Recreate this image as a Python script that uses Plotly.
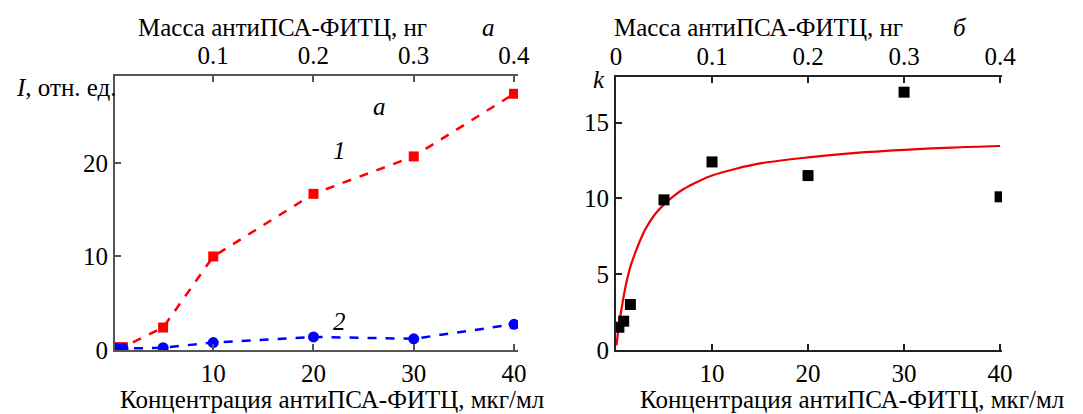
import plotly.graph_objects as go

# ---- data ----
conc_a = [0.3, 1, 5, 10, 20, 30, 40]
I_red = [0.3, 0.3, 2.4, 10.0, 16.7, 20.7, 27.4]
conc_b = [0.3, 1, 5, 10, 20, 30, 40]
I_blue = [0.2, 0.15, 0.25, 0.8, 1.4, 1.2, 2.75]

conc_k = [0.3, 0.8, 1.5, 5, 10, 20, 30, 40]
k_vals = [1.5, 1.9, 3.0, 9.9, 12.4, 11.5, 17.0, 10.1]

fit_c = [0.05, 0.3, 0.6, 1, 1.5, 2, 2.5, 3, 4, 5, 6, 7, 8.5, 10, 12.5, 15, 20, 25, 30, 35, 40]
fit_k = [0.3, 1.6, 2.8, 4.2, 5.5, 6.4, 7.2, 7.9, 8.9, 9.6, 10.15, 10.6, 11.1, 11.5, 11.95, 12.3, 12.7, 13.0, 13.2, 13.35, 13.45]

bottom_ticks = [10, 20, 30, 40]
top_ticks = [0, 0.1, 0.2, 0.3, 0.4]
top_labels = ["0", "0.1", "0.2", "0.3", "0.4"]
yticks_a = [0, 10, 20]
yticks_b = [0, 5, 10, 15]

W, H = 1083, 414
FONT = "Liberation Serif"
FS = 25
FS_T = 25

def px_x(p):
    return p / W

def px_y(p):
    return 1 - p / H

fig = go.Figure()

# left panel
fig.add_trace(go.Scatter(x=conc_a, y=I_red, mode="lines+markers",
                         line=dict(color="#ff0000", width=2.5, dash="dash"),
                         marker=dict(symbol="square", size=10, color="#ff0000"),
                         xaxis="x", yaxis="y", showlegend=False))
fig.add_trace(go.Scatter(x=conc_b, y=I_blue, mode="lines+markers",
                         line=dict(color="#0000ff", width=2.5, dash="dash"),
                         marker=dict(symbol="circle", size=11, color="#0000ff"),
                         xaxis="x", yaxis="y", showlegend=False))
fig.add_trace(go.Scatter(x=[top_ticks[0]], y=[0], mode="markers", marker=dict(opacity=0),
                         hoverinfo="skip", xaxis="x3", yaxis="y", showlegend=False))

# right panel
fig.add_trace(go.Scatter(x=fit_c, y=fit_k, mode="lines", line=dict(color="#ee0000", width=2.2, shape="spline"),
                         xaxis="x2", yaxis="y2", showlegend=False))
fig.add_trace(go.Scatter(x=conc_k, y=k_vals, mode="markers",
                         marker=dict(symbol="square", size=11, color="#000000"),
                         xaxis="x2", yaxis="y2", showlegend=False))
fig.add_trace(go.Scatter(x=[top_ticks[0]], y=[0], mode="markers", marker=dict(opacity=0),
                         hoverinfo="skip", xaxis="x4", yaxis="y2", showlegend=False))

tickfont = dict(family=FONT, size=FS, color="#000000")

def xax(domain, rng, vals, texts, side, color, anchor, overlaying=None):
    d = dict(domain=domain, range=rng, tickvals=vals, ticktext=texts, side=side,
             showline=True, linecolor=color, linewidth=2, ticks="inside", ticklen=6,
             tickcolor=color, tickwidth=2, showgrid=False, zeroline=False,
             tickfont=tickfont, anchor=anchor, automargin=False)
    if overlaying:
        d["overlaying"] = overlaying
    return d

def yax(domain, rng, vals, color, anchor):
    return dict(domain=domain, range=rng, tickvals=vals, ticktext=[str(v) for v in vals],
                showline=True, linecolor=color, linewidth=2, ticks="inside", ticklen=6,
                tickcolor=color, tickwidth=2, showgrid=False, zeroline=False,
                tickfont=tickfont, anchor=anchor, automargin=False)

la = (px_x(115), px_x(518))
ra = (px_x(616), px_x(1002))
l_rng = [0.2, 40.4]
r_rng = [0, 40.2]

fig.update_layout(
    width=W, height=H,
    margin=dict(l=0, r=0, t=0, b=0, autoexpand=False),
    font=dict(family=FONT, size=FS, color="#000000"),
    paper_bgcolor="white", plot_bgcolor="white",
    xaxis=xax(la, l_rng, bottom_ticks, [str(v) for v in bottom_ticks], "bottom", "#555555", "y"),
    xaxis3=xax(la, [l_rng[0] / 100, l_rng[1] / 100], top_ticks, top_labels, "top", "#555555", "y", "x"),
    yaxis=yax((px_y(350), px_y(76)), [0, 29.3], yticks_a, "#555555", "x"),
    xaxis2=xax(ra, r_rng, bottom_ticks, [str(v) for v in bottom_ticks], "bottom", "#222222", "y2"),
    xaxis4=xax(ra, [r_rng[0] / 100, r_rng[1] / 100], top_ticks, top_labels, "top", "#222222", "y2", "x2"),
    yaxis2=yax((px_y(350), px_y(77)), [0, 18], yticks_b, "#222222", "x2"),
)

txt = dict(family=FONT, size=FS_T, color="#000000")
anns = [
    dict(x=px_x(282), y=px_y(28), text="Масса антиПСА-ФИТЦ, нг"),
    dict(x=px_x(488), y=px_y(28), text="<i>а</i>"),
    dict(x=px_x(758), y=px_y(28), text="Масса антиПСА-ФИТЦ, нг"),
    dict(x=px_x(960), y=px_y(28), text="<i>б</i>"),
    dict(x=px_x(332), y=px_y(399), text="Концентрация антиПСА-ФИТЦ, мкг/мл"),
    dict(x=px_x(852), y=px_y(399), text="Концентрация антиПСА-ФИТЦ, мкг/мл"),
    dict(x=px_x(119), y=px_y(87), text="<i>I</i>, отн. ед.", xanchor="right"),
    dict(x=px_x(607), y=px_y(80), text="<i>k</i>", xanchor="right"),
]
for a in anns:
    base = dict(xref="paper", yref="paper", showarrow=False, font=txt, xanchor="center", yanchor="middle")
    base.update(a)
    fig.add_annotation(**base)

# in-plot labels (left panel data coordinates)
for x, y, t in [(26.6, 26.0, "<i>а</i>"), (22.6, 21.3, "<i>1</i>"), (22.6, 3.0, "<i>2</i>")]:
    fig.add_annotation(x=x, y=y, xref="x", yref="y", text=t, showarrow=False, font=txt)

fig.write_html("out.html")
